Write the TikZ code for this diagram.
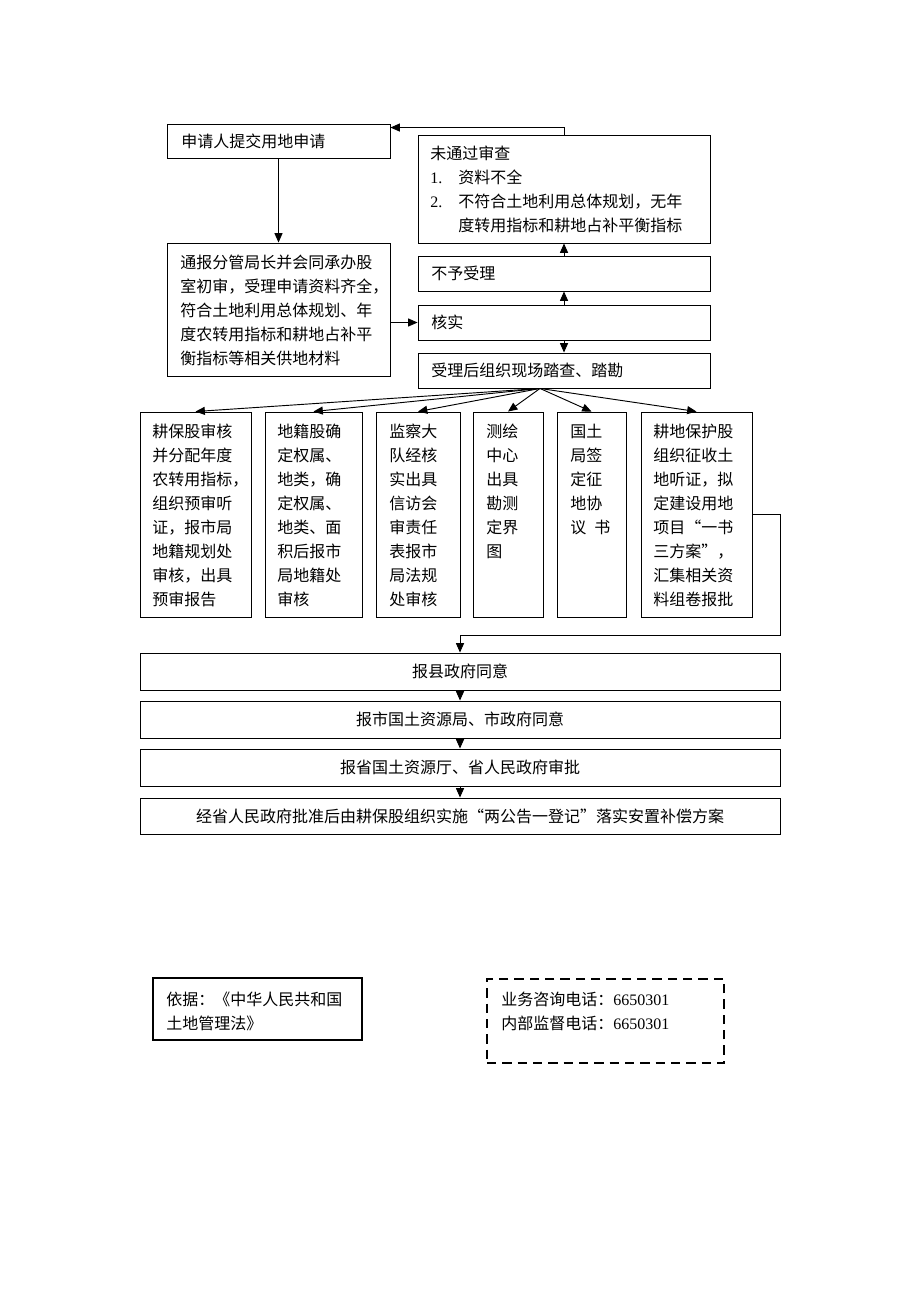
\documentclass[tikz,border=0pt]{standalone}
\usepackage{fontspec}
\setmainfont{Liberation Serif}
\newfontfamily\cjk{Noto Sans CJK SC}
\usetikzlibrary{arrows.meta,fit,calc}
\newcommand\cjkf{\cjk\fontsize{12}{18}\selectfont}
\tikzset{
  box/.style={draw, line width=0.7pt, inner sep=0pt},
  txt/.style={inner sep=0pt, anchor=north west, align=left, font=\cjkf},
  ctxt/.style={inner sep=0pt, font=\cjkf},
  arr/.style={line width=0.7pt, -{Triangle[length=7pt,width=6pt]}},
}
\begin{document}
\begin{tikzpicture}[x=0.75pt,y=-0.75pt]
\useasboundingbox (0,0) rectangle (920,1302);
% top-left boxes
\node[box, fit={(167,124) (390,158)}] (A) {};
\node[txt] (At) at (181,133.5) {申请人提交用地申请};
\node[box, fit={(167,243) (390,376)}] (B) {};
\node[txt] (Bt) at (180,254.5) {通报分管局长并会同承办股\\室初审，受理申请资料齐全，\\符合土地利用总体规划、年\\度农转用指标和耕地占补平\\衡指标等相关供地材料};
% right column
\node[box, fit={(418,135) (710,243)}] (F) {};
\node[txt] (Ft) at (430,145.5) {未通过审查\\\makebox[21pt][l]{\rmfamily 1.}资料不全\\\makebox[21pt][l]{\rmfamily 2.}不符合土地利用总体规划，无年\\\hspace{21pt}度转用指标和耕地占补平衡指标};
\node[box, fit={(418,256) (710,291)}] (N) {};
\node[txt] (Nt) at (431,266) {不予受理};
\node[box, fit={(418,305) (710,340)}] (H) {};
\node[txt] (Ht) at (431,315) {核实};
\node[box, fit={(418,353) (710,388)}] (S) {};
\node[txt] (St) at (431,363) {受理后组织现场踏查、踏勘};
% six boxes
\node[box, fit={(140,412) (251,617)}] (K1) {};
\node[txt] (K1t) at (152,423.5) {耕保股审核\\并分配年度\\农转用指标，\\组织预审听\\证，报市局\\地籍规划处\\审核，出具\\预审报告};
\node[box, fit={(265,412) (362,617)}] (K2) {};
\node[txt] (K2t) at (277,423.5) {地籍股确\\定权属、\\地类，确\\定权属、\\地类、面\\积后报市\\局地籍处\\审核};
\node[box, fit={(376,412) (460,617)}] (K3) {};
\node[txt] (K3t) at (389,423.5) {监察大\\队经核\\实出具\\信访会\\审责任\\表报市\\局法规\\处审核};
\node[box, fit={(473,412) (543,617)}] (K4) {};
\node[txt] (K4t) at (486,423.5) {测绘\\中心\\出具\\勘测\\定界\\图};
\node[box, fit={(557,412) (626,617)}] (K5) {};
\node[txt] (K5t) at (570,423.5) {国土\\局签\\定征\\地协\\议\hspace{6pt}书};
\node[box, fit={(641,412) (752,617)}] (K6) {};
\node[txt] (K6t) at (653,423.5) {耕地保护股\\组织征收土\\地听证，拟\\定建设用地\\项目“一书\\三方案”，\\汇集相关资\\料组卷报批};
% bottom boxes
\node[box, fit={(140,653) (780,690)}] (C1) {};
\node[ctxt] (C1t) at (C1) {报县政府同意};
\node[box, fit={(140,701) (780,738)}] (C2) {};
\node[ctxt] (C2t) at (C2) {报市国土资源局、市政府同意};
\node[box, fit={(140,749) (780,786)}] (C3) {};
\node[ctxt] (C3t) at (C3) {报省国土资源厅、省人民政府审批};
\node[box, fit={(140,798) (780,834)}] (C4) {};
\node[ctxt] (C4t) at (C4) {经省人民政府批准后由耕保股组织实施“两公告一登记”落实安置补偿方案};
% footer
\node[draw, line width=1.8pt, inner sep=0pt, fit={(153,978) (362,1040)}] (L) {};
\node[txt] (Lt) at (166,991.5) {依据：《中华人民共和国\\土地管理法》};
\node[draw, line width=1.8pt, dash pattern=on 7pt off 4.5pt, inner sep=0pt, fit={(487,979) (724,1063)}] (D) {};
\node[txt] (Dt) at (501,991.5) {业务咨询电话：{\rmfamily 6650301}\\内部监督电话：{\rmfamily 6650301}};
% connectors
\draw[arr] (A) -- (B);
\draw[arr] (B.east |- H) -- (H.west);
\draw[arr] (H) -- (N);
\draw[arr] (N) -- (F);
\draw[arr] (H) -- (S);
\draw[arr] (F.north) |- ([yshift=-3pt]A.north east);
\coordinate (fan) at ([xshift=-18pt]S.south);
\foreach \k in {K1,K2,K3,K4,K5,K6} \draw[arr] (fan) -- (\k.north);
\draw[arr] (K6.east) -- ++(28,0) -- ++(0,120.5) -| (C1.north);
\draw[arr] (C1) -- (C2);
\draw[arr] (C2) -- (C3);
\draw[arr] (C3) -- (C4);
\end{tikzpicture}
\end{document}
